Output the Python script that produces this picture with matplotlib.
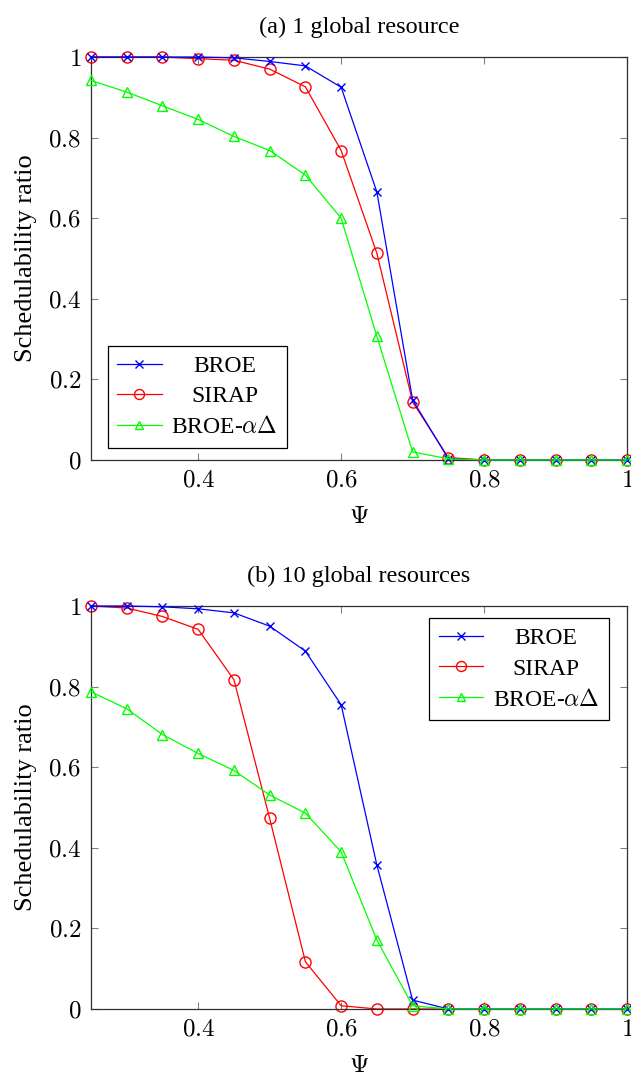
import numpy as np
import matplotlib
matplotlib.use("Agg")
import matplotlib.pyplot as plt

plt.rcParams['font.family'] = ['Liberation Serif', 'DejaVu Serif']
plt.rcParams['mathtext.fontset'] = 'cm'

psi = [0.25, 0.30, 0.35, 0.40, 0.45, 0.50, 0.55, 0.60,
       0.65, 0.70, 0.75, 0.80, 0.85, 0.90, 0.95, 1.00]

# (a) 1 global resource
broe_a = [1.0, 1.0, 1.0, 1.0, 0.998, 0.989, 0.978, 0.925,
          0.665, 0.149, 0.003, 0.0, 0.0, 0.0, 0.0, 0.0]
sirap_a = [1.0, 1.0, 1.0, 0.996, 0.992, 0.970, 0.926, 0.768,
           0.513, 0.144, 0.006, 0.0, 0.0, 0.0, 0.0, 0.0]
broead_a = [0.942, 0.913, 0.879, 0.845, 0.803, 0.768, 0.707, 0.600,
            0.307, 0.020, 0.003, 0.0, 0.0, 0.0, 0.0, 0.0]

# (b) 10 global resources
broe_b = [1.0, 1.0, 0.998, 0.993, 0.983, 0.950, 0.888, 0.755,
          0.357, 0.022, 0.0, 0.0, 0.0, 0.0, 0.0, 0.0]
sirap_b = [1.0, 0.995, 0.974, 0.942, 0.817, 0.473, 0.117, 0.008,
           0.0, 0.0, 0.0, 0.0, 0.0, 0.0, 0.0, 0.0]
broead_b = [0.787, 0.745, 0.681, 0.634, 0.592, 0.531, 0.486, 0.390,
            0.171, 0.008, 0.0, 0.0, 0.0, 0.0, 0.0, 0.0]

labels = ['BROE', 'SIRAP', r'BROE-$\alpha\Delta$']
titles = ['(a) 1 global resource', '(b) 10 global resources']
xticks = [0.4, 0.6, 0.8, 1.0]
xticklabels = ['$0.4$', '$0.6$', '$0.8$', '$1$']
yticks = [0, 0.2, 0.4, 0.6, 0.8, 1.0]
yticklabels = ['$0$', '$0.2$', '$0.4$', '$0.6$', '$0.8$', '$1$']

fig = plt.figure(figsize=(6.31, 10.76), dpi=100)
ax_a = fig.add_axes([0.1442, 0.5725, 0.8495, 0.3745])
ax_b = fig.add_axes([0.1442, 0.0623, 0.8495, 0.3745])

panels = [(ax_a, broe_a, sirap_a, broead_a, 'lower left', (0.031, 0.030)),
          (ax_b, broe_b, sirap_b, broead_b, 'upper right', (0.966, 0.970))]

legends = []
for i, (ax, b, s, g, loc, anchor) in enumerate(panels):
    ax.plot(psi, b, color=(0, 0, 1), marker='x', markersize=6, lw=0.9,
            label=labels[0], zorder=3, clip_on=False)
    ax.plot(psi, s, color=(1, 0, 0), marker='o', markersize=8, lw=0.9,
            markerfacecolor='none', label=labels[1], zorder=2, clip_on=False)
    ax.plot(psi, g, color=(0, 1, 0), marker='^', markersize=7, lw=0.9,
            markerfacecolor='none', label=labels[2], zorder=4, clip_on=False)
    ax.set_xlim(0.25, 1.0)
    ax.set_ylim(0, 1.0)
    ax.set_xticks(xticks)
    ax.set_xticklabels(xticklabels)
    ax.set_yticks(yticks)
    ax.set_yticklabels(yticklabels)
    ax.tick_params(direction='in', top=True, right=True, length=5,
                   width=0.8, color='#808080', labelsize=18, pad=7)
    for sp in ax.spines.values():
        sp.set_linewidth(0.9)
        sp.set_color('#303030')
    ax.set_xlabel(r'$\Psi$', fontsize=18, labelpad=10)
    ax.set_ylabel('Schedulability ratio', fontsize=19, labelpad=8)
    ax.set_title(titles[i], fontsize=17.5, pad=17)
    leg = ax.legend(loc=loc, bbox_to_anchor=anchor, fontsize=17,
                    fancybox=False, edgecolor='black', framealpha=1,
                    handlelength=1.9, handletextpad=0.4, borderpad=0.4,
                    labelspacing=0.38, borderaxespad=0, markerscale=0.9)
    leg.get_frame().set_linewidth(0.9)
    legends.append(leg)

# centre the legend entries like pgfplots does
fig.canvas.draw()
renderer = fig.canvas.get_renderer()
for leg in legends:
    texts = leg.get_texts()
    widths = [t.get_window_extent(renderer).width for t in texts]
    wmax = max(widths)
    for t, w in zip(texts, widths):
        t.set_x((wmax - w) / 2)

fig.savefig('out.png', dpi=100)
